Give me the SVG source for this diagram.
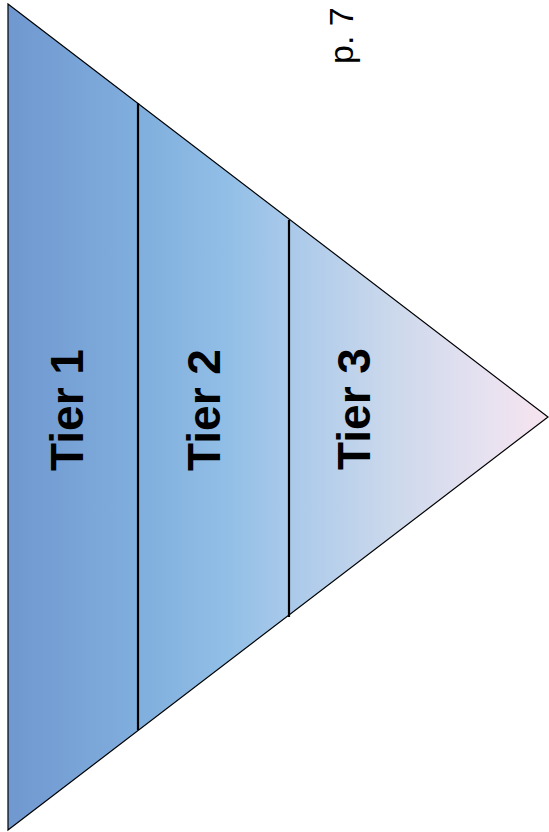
<svg xmlns="http://www.w3.org/2000/svg" width="549" height="832" viewBox="0 0 549 832">
<defs>
<linearGradient id="g" gradientUnits="userSpaceOnUse" x1="8" y1="0" x2="548" y2="0">
<stop offset="0" stop-color="#7098d0"/>
<stop offset="0.24" stop-color="#80aedd"/>
<stop offset="0.4" stop-color="#90bee6"/>
<stop offset="0.52" stop-color="#a9c9ea"/>
<stop offset="0.72" stop-color="#cdd9ec"/>
<stop offset="0.88" stop-color="#e6e1f0"/>
<stop offset="1" stop-color="#f7e4ef"/>
</linearGradient>
<style>
.tier{font-family:"Liberation Sans",Arial,sans-serif;font-weight:bold;font-size:46px;fill:#000}
.div{stroke:#000;stroke-width:2.2}
</style>
</defs>
<g id="pyramid">
<polygon points="8,4 548,417 8,830" fill="url(#g)" stroke="#000" stroke-width="1.2"/>
</g>
<g id="connectors">
<line class="div" x1="138" y1="103" x2="138" y2="730"/>
<line class="div" x1="289" y1="220" x2="289" y2="617"/>
</g>
<g id="tier1"><text class="tier" transform="translate(83,471) rotate(-90)">Tier 1</text></g>
<g id="tier2"><text class="tier" transform="translate(220,471) rotate(-90)">Tier 2</text></g>
<g id="tier3"><text class="tier" transform="translate(370,470) rotate(-90)">Tier 3</text></g>
<g id="page"><text transform="translate(353,64) rotate(-90)" font-family="Liberation Sans,Arial,sans-serif" font-size="34">p. 7</text></g>
</svg>
